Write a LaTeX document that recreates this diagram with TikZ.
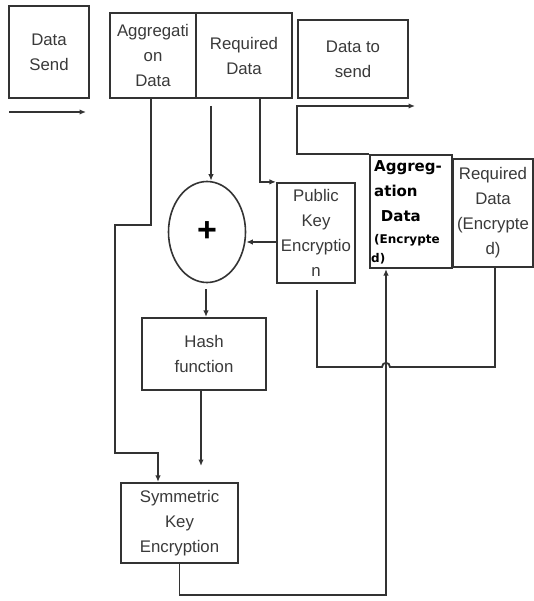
\documentclass[tikz,border=0pt]{standalone}
\usepackage{fontspec}
\setmainfont{Liberation Sans}
\newfontfamily\aggfont{DejaVu Sans}
\usetikzlibrary{arrows.meta,shapes.geometric,calc}
\definecolor{ln}{HTML}{333333}
\definecolor{tx}{HTML}{3A3A3A}
\tikzset{
  box/.style={draw=ln, line width=2.2pt, rectangle, inner sep=0pt, align=center,
    text=tx, font=\fontsize{16.8}{25}\selectfont},
  conn/.style={draw=ln, line width=1.8pt},
  arr/.style={conn, -{Latex[length=6.5pt,width=5.5pt]}},
}
\begin{document}
\begin{tikzpicture}[x=1pt,y=-1pt]
\useasboundingbox[fill=white] (0,0) rectangle (534,601);

% top row
\node[box, minimum width=80pt, minimum height=92pt] (ds) at (49,52) {Data\\Send};
\node[box, minimum width=86pt, minimum height=85pt] (agg) at (153,55.5) {Aggregati\\on\\Data};
\node[box, minimum width=96pt, minimum height=85pt] (req) at (244,55.5) {Required\\Data};
\node[box, minimum width=110pt, minimum height=78pt] (dts) at (353,59) {Data to\\send};

% middle
\node[box, minimum width=78pt, minimum height=100pt] (pke) at (316,233) {Public\\Key\\Encryptio\\n};
\node[box, minimum width=82pt, minimum height=113pt] (aggenc) at (411,211.5) {};
\node[anchor=north west, inner sep=0pt, align=left, text=black,
      font=\aggfont\bfseries\fontsize{15}{25}\selectfont] (aggtxt) at (374,160)
  {Aggreg-\\ation\\\hspace*{0.45em}Data\\[-3pt]{\fontsize{12}{14}\selectfont(Encrypte}\\[-6pt]{\fontsize{12}{14}\selectfont\hspace*{-3pt}d)}};
\node[box, minimum width=80pt, minimum height=108pt] (reqenc) at (493,213) {Required\\Data\\(Encrypte\\d)};

\node[draw=ln, line width=1.6pt, ellipse, minimum width=77pt, minimum height=101pt, inner sep=0pt,
      text=black, font=\bfseries\fontsize{34}{34}\selectfont] (ell) at (207,232) {+};

\node[box, minimum width=124pt, minimum height=72pt] (hash) at (204,354) {Hash\\function};
\node[box, minimum width=117pt, minimum height=80pt] (sym) at (179.5,523) {Symmetric\\Key\\Encryption};

% free coordinates
\coordinate (s1) at (9,112);
\coordinate (s2) at (86,112);
\coordinate (r1) at (211,106);
\coordinate (e1) at (206,289);
\coordinate (h2) at (201,466);
\coordinate (p1) at (317,290);
\coordinate (d1) at (297,106);
\coordinate (d2) at (415,106);

% connectors
\draw[arr] (s1) -- (s2);
\draw[arr] (r1) -- (r1 |- ell.north);
\draw[arr] ([xshift=16pt]req.south) |- (pke.north west);
\draw[arr] ([yshift=-9pt]pke.west) -- ([yshift=-9pt]pke.west -| ell.east);
\draw[arr] (e1) -- (e1 |- hash.north);
\draw[arr] (hash.south -| h2) -- (h2);
\draw[arr] ([xshift=-2pt]agg.south) -- (151,225) -- (115,225) -- (115,453) -- (158,453) -- (sym.north -| 158,0);
\draw[arr] (sym.south) -- (179.5,595) -- (386,595) -- (aggenc.south -| 386,0);
\draw[conn] (p1) -- (317,367) -- (382,367) .. controls (382,361.5) and (390,361.5) .. (390,367) -- (495,367) -- (reqenc.south -| 495,0);
\draw[arr] (aggenc.north west) -| (d1) -- (d2);
\end{tikzpicture}
\end{document}
